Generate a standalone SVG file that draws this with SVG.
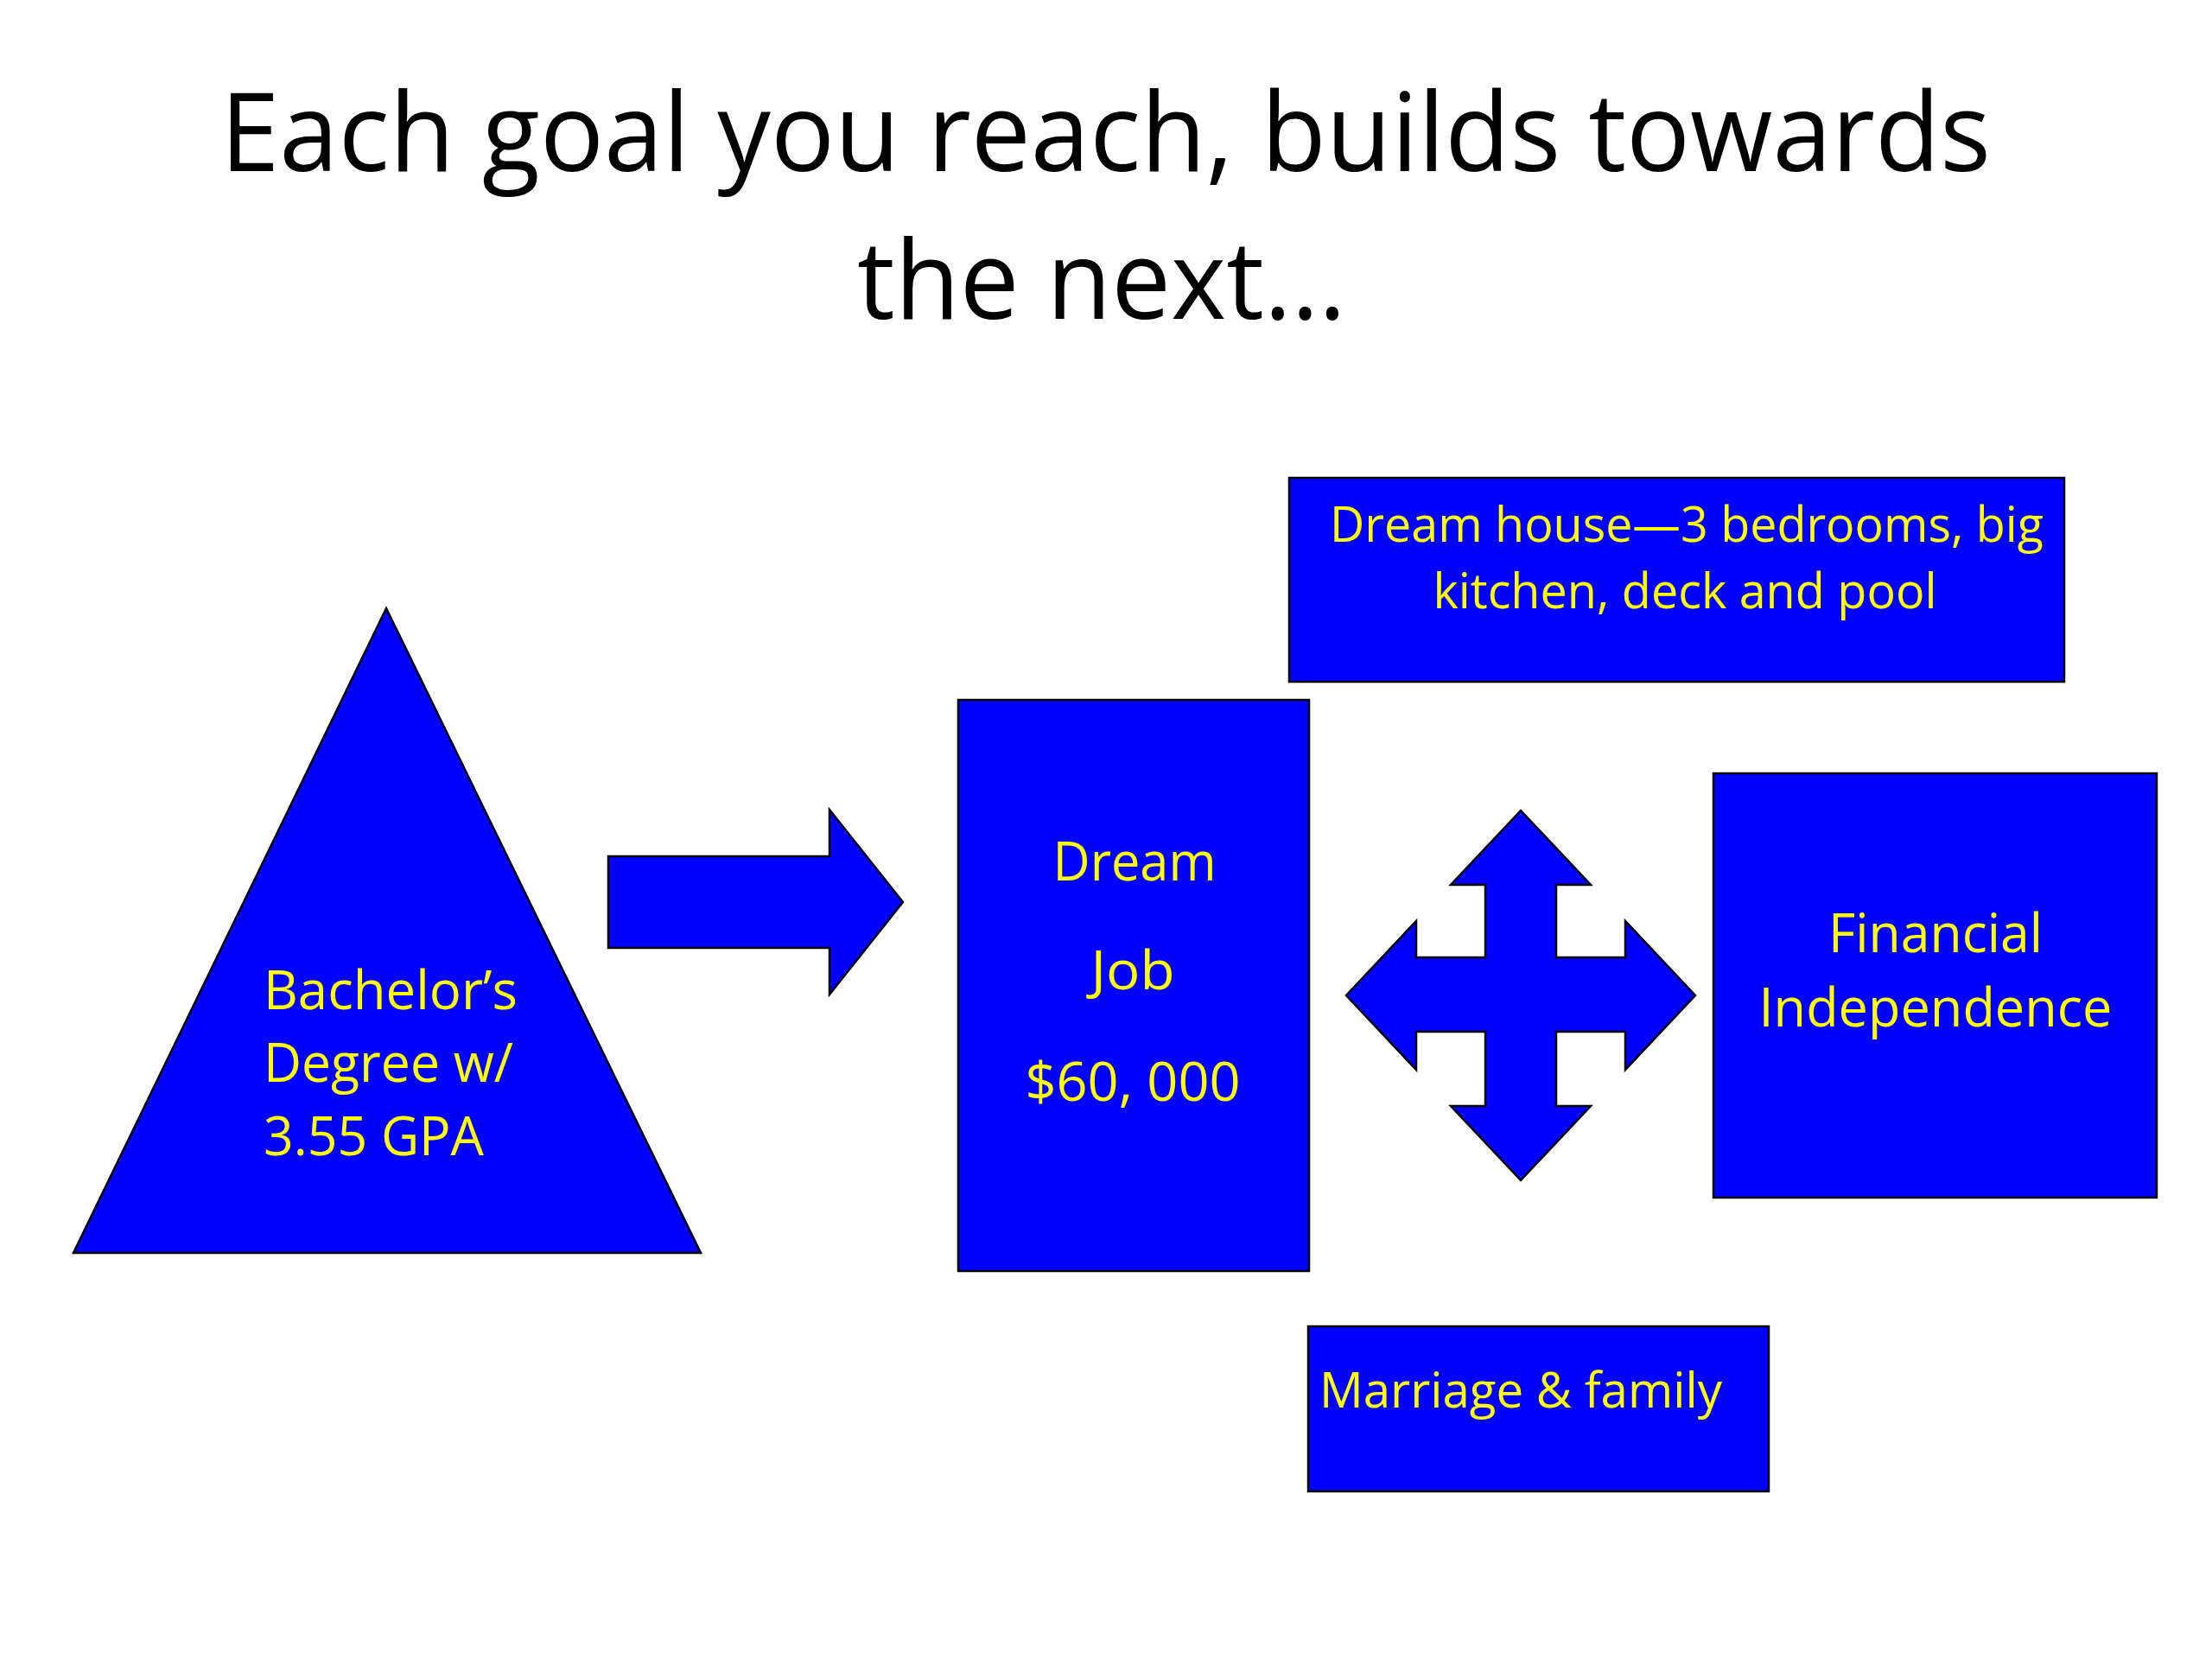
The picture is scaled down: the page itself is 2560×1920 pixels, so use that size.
<svg xmlns="http://www.w3.org/2000/svg" width="2560" height="1920" viewBox="0 0 2560 1920">
<style>
.shape{fill:#0000FF;stroke:#000;stroke-width:2.5;stroke-linejoin:miter}
.t{font-family:"Open Sans","Noto Sans","Liberation Sans",sans-serif;fill:#FFFF00}
.b{font-size:63px}
.s{font-size:57px}
.title{font-family:"Open Sans","Noto Sans","Liberation Sans",sans-serif;font-size:126px;fill:#000}
</style>
<rect width="2560" height="1920" fill="#fff"/>
<g id="title">
<text class="title" x="255" y="198" textLength="2049" lengthAdjust="spacingAndGlyphs">Each goal you reach, builds towards</text>
<text class="title" x="992" y="369" textLength="566" lengthAdjust="spacingAndGlyphs">the next…</text>
</g>
<g id="connectors">
<polygon class="shape" points="704,991 960,991 960,937 1045,1044 960,1151 960,1097 704,1097"/>
<polygon class="shape" points="1760,938 1841,1024 1801,1024 1801,1108 1881,1108 1881,1066 1962,1152 1881,1238 1881,1194 1801,1194 1801,1280 1841,1280 1760,1366 1679,1280 1719,1280 1719,1194 1639,1194 1639,1238 1558,1152 1639,1066 1639,1108 1719,1108 1719,1024 1679,1024"/>
</g>
<g id="bachelors">
<polygon class="shape" points="447,704 811,1450 85,1450"/>
<text class="t b" x="305" y="1168" textLength="294" lengthAdjust="spacingAndGlyphs">Bachelor’s</text>
<text class="t b" x="305" y="1252" textLength="289" lengthAdjust="spacingAndGlyphs">Degree w/</text>
<text class="t b" x="305" y="1337" textLength="255" lengthAdjust="spacingAndGlyphs">3.55 GPA</text>
</g>
<g id="dream-job">
<rect class="shape" x="1109" y="810" width="406" height="661"/>
<text class="t b" x="1313" y="1019" text-anchor="middle" textLength="189" lengthAdjust="spacingAndGlyphs">Dream</text>
<text class="t b" x="1311" y="1145" text-anchor="middle" textLength="97" lengthAdjust="spacingAndGlyphs">Job</text>
<text class="t b" x="1311" y="1274" text-anchor="middle" textLength="249" lengthAdjust="spacingAndGlyphs">$60, 000</text>
</g>
<g id="dream-house">
<rect class="shape" x="1492" y="553" width="897" height="236"/>
<text class="t s" x="1952" y="627" text-anchor="middle" textLength="826" lengthAdjust="spacingAndGlyphs">Dream house—3 bedrooms, big</text>
<text class="t s" x="1950" y="704" text-anchor="middle" textLength="583" lengthAdjust="spacingAndGlyphs">kitchen, deck and pool</text>
</g>
<g id="financial">
<rect class="shape" x="1983" y="895" width="513" height="491"/>
<text class="t b" x="2240" y="1102" text-anchor="middle" textLength="248" lengthAdjust="spacingAndGlyphs">Financial</text>
<text class="t b" x="2240" y="1188" text-anchor="middle" textLength="409" lengthAdjust="spacingAndGlyphs">Independence</text>
</g>
<g id="marriage">
<rect class="shape" x="1514" y="1535" width="533" height="191"/>
<text class="t s" x="1527" y="1629" textLength="466" lengthAdjust="spacingAndGlyphs">Marriage &amp; family</text>
</g>
</svg>
